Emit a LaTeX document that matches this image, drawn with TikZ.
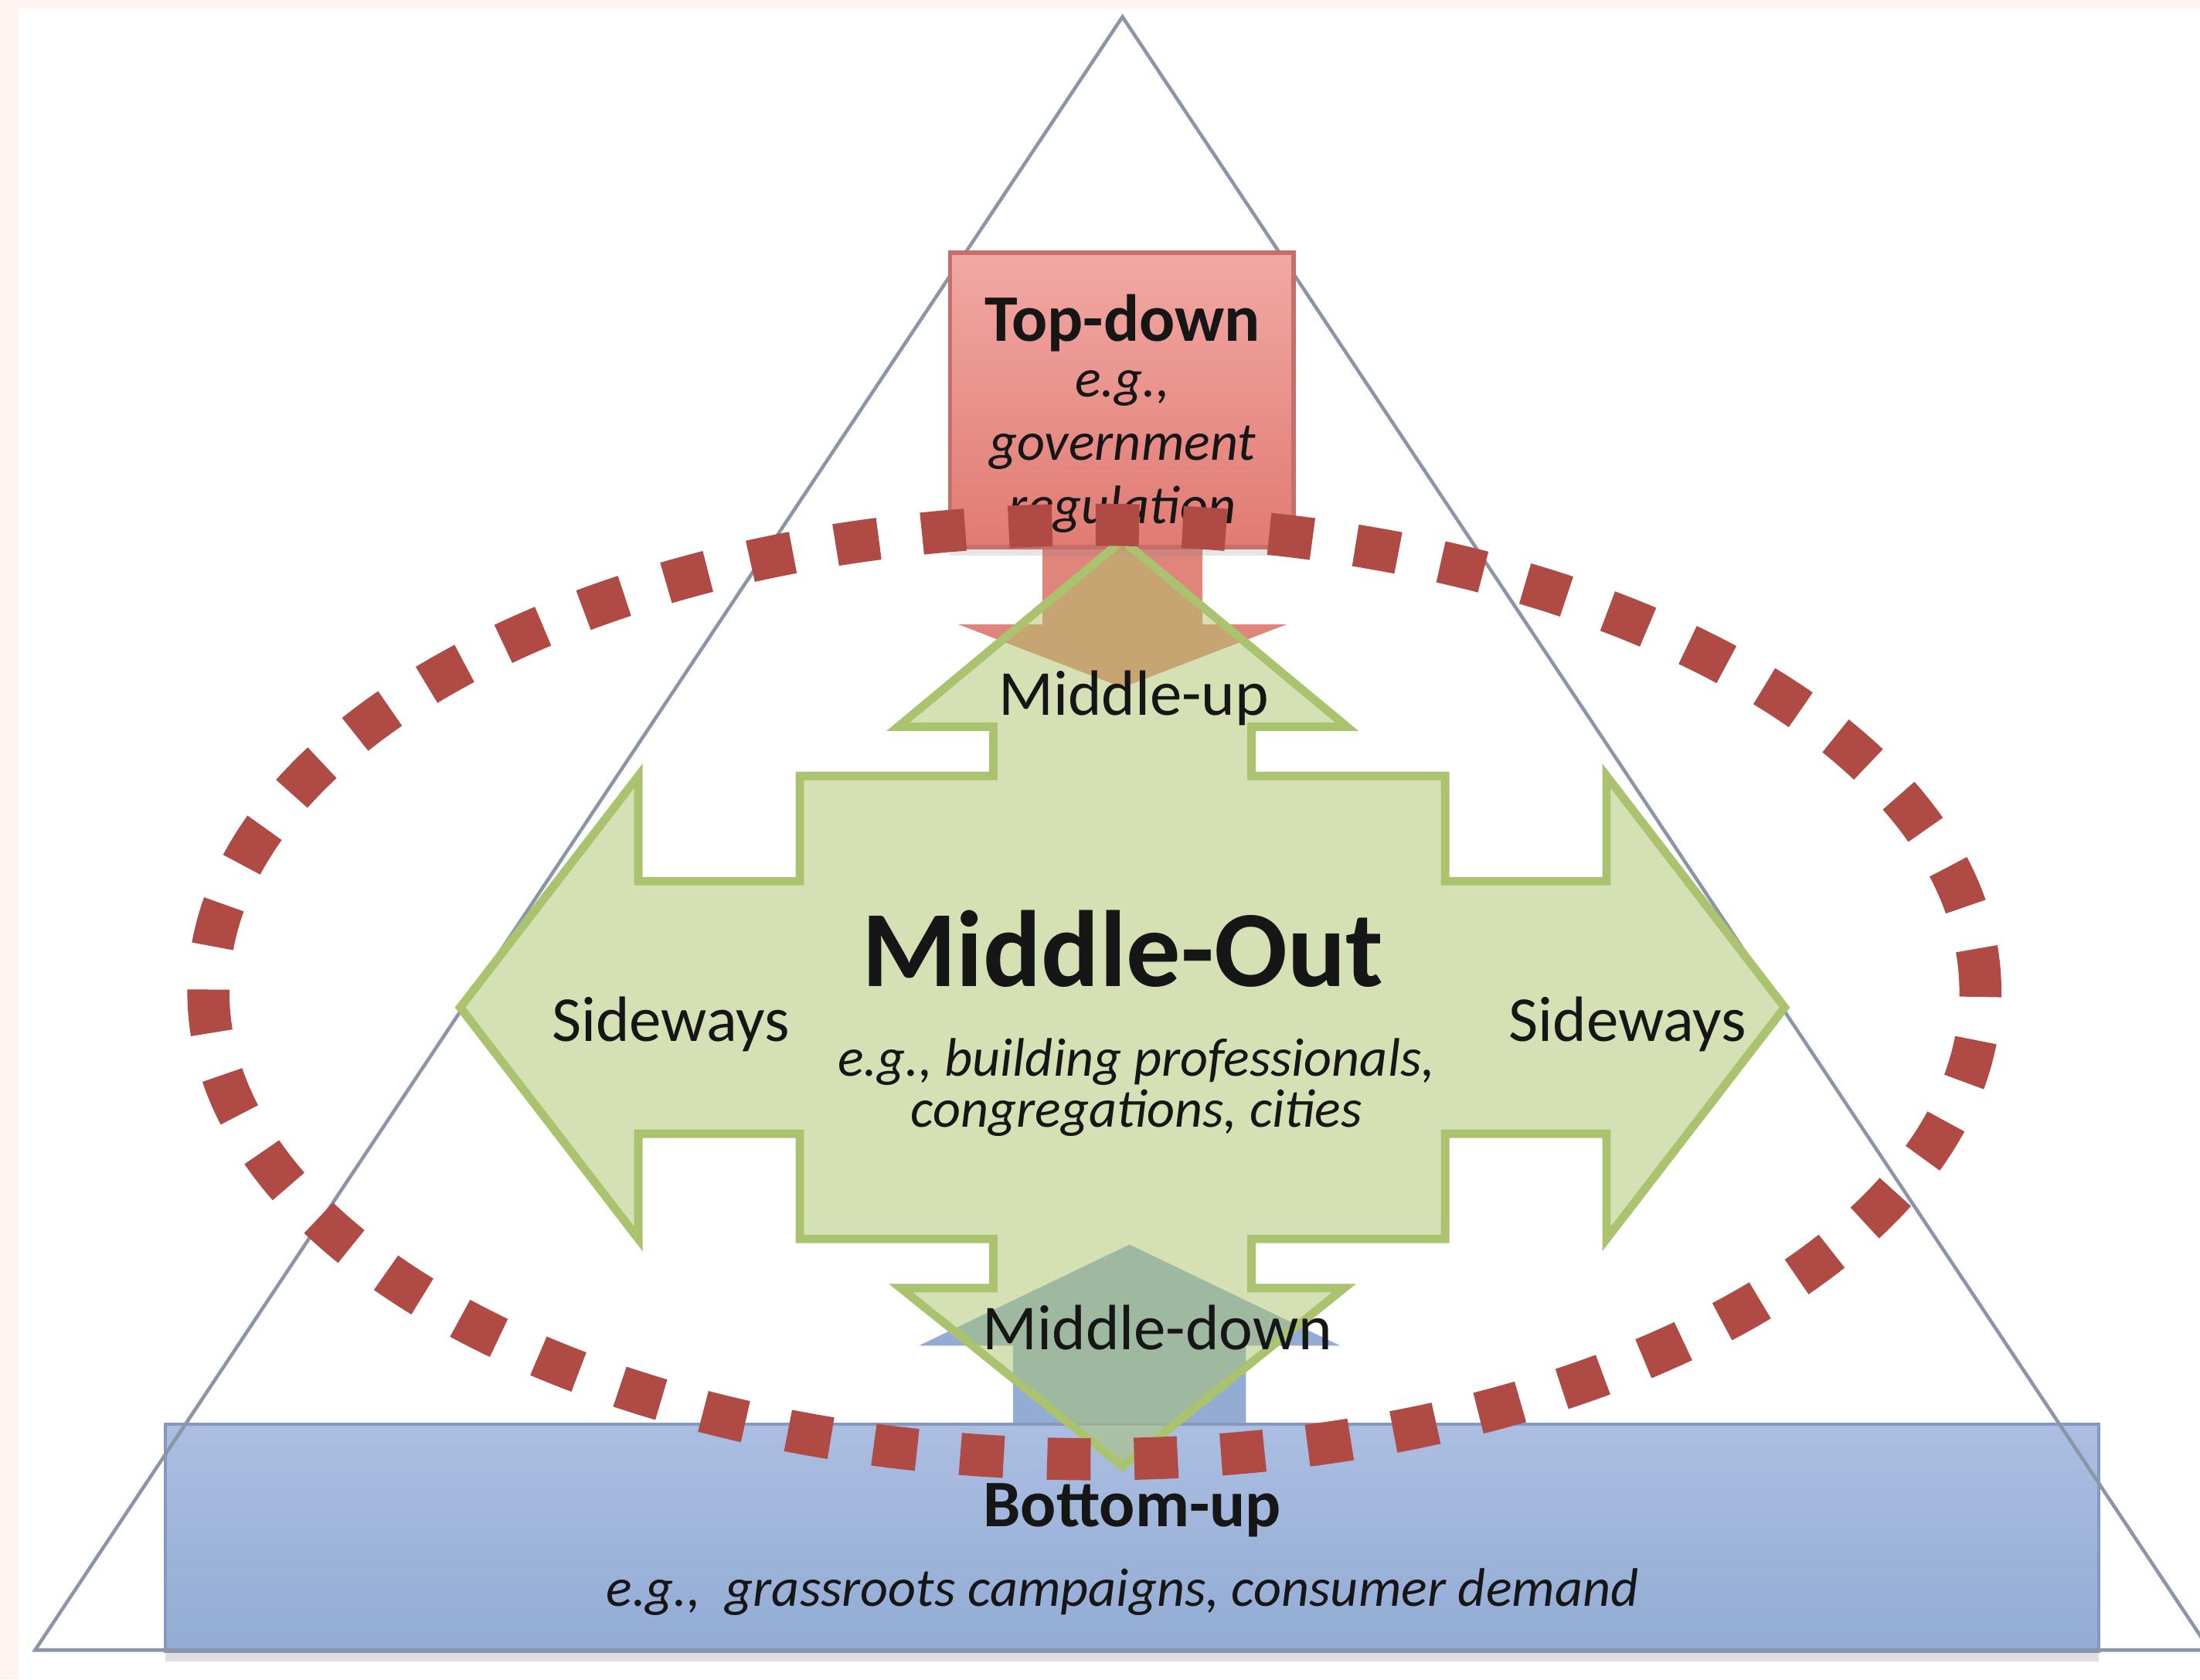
\documentclass[tikz,border=0pt]{standalone}
\usepackage{fontspec}
\setmainfont{Carlito}
\usetikzlibrary{shadows}

\definecolor{pinkbg}{HTML}{FFF4F2}
\definecolor{trianglegray}{HTML}{8C95A8}
\definecolor{topred}{HTML}{F2A8A4}
\definecolor{bottomred}{HTML}{E07B73}
\definecolor{redline}{HTML}{C86E68}
\definecolor{redarrow}{HTML}{E0857B}
\definecolor{topblue}{HTML}{ABBEE1}
\definecolor{bottomblue}{HTML}{92ACD4}
\definecolor{blueline}{HTML}{8599C0}
\definecolor{crossgreen}{HTML}{ADC56D}
\definecolor{greenline}{HTML}{ABC36E}
\definecolor{dotred}{HTML}{B04A44}
\definecolor{darktext}{HTML}{161616}

\begin{document}
\begin{tikzpicture}[x = 0.1mm, y = -0.1mm,
  small text/.style = {font = \fontsize{13}{15}\selectfont, text = darktext, inner sep = 0pt},
  title text/.style = {font = \bfseries\fontsize{13.5}{16}\selectfont, text = darktext, inner sep = 0pt},
  example text/.style = {font = \itshape\fontsize{11}{12.8}\selectfont, text = darktext, inner sep = 0pt, align = center}]
\useasboundingbox (0,0) rectangle (1568,1197);
\fill[pinkbg] (0,0) rectangle (1568,1197);
\fill[white] (14,6) rectangle (1568,1197);
\fill[bottomblue] (722,1020) -- (722,959) -- (655,959) -- (805,887) -- (955,959) -- (888,959) -- (888,1020) -- cycle;
\draw[top color = topblue, bottom color = bottomblue, draw = blueline, line width = 0.2mm, drop shadow = {opacity = 0.25, shadow xshift = 0mm, shadow yshift = -0.7mm}] (118,1015) rectangle (1496,1177);
\draw[trianglegray, line width = 0.25mm] (800,12) -- (1575,1176) -- (25,1176) -- cycle;
\fill[redarrow] (743,380) -- (743,445) -- (683,445) -- (800,490) -- (917,445) -- (857,445) -- (857,380) -- cycle;
\draw[top color = topred, bottom color = bottomred, draw = redline, line width = 0.3mm, drop shadow = {opacity = 0.2, shadow xshift = 0mm, shadow yshift = -0.6mm}] (677,180) rectangle (922,390);
\draw[fill = crossgreen, fill opacity = 0.5, draw = greenline, line width = 0.6mm] (800,385) -- (960,518) -- (892,518) -- (892,553) -- (1030,553) -- (1030,628) -- (1145,628) -- (1145,553) -- (1272,718) -- (1145,883) -- (1145,808) -- (1030,808) -- (1030,883) -- (892,883) -- (892,918) -- (958,918) -- (800,1045) -- (642,918) -- (708,918) -- (708,883) -- (570,883) -- (570,808) -- (455,808) -- (455,883) -- (328,718) -- (455,553) -- (455,628) -- (570,628) -- (570,553) -- (708,553) -- (708,518) -- (640,518) -- cycle;
\node[title text, anchor = base] (topdown) at (800,243) {Top-down};
\node[example text] (topdowneg) at (800,322) {e.g.,\\government\\regulation};
\node[small text, anchor = base] (middleup) at (808,510) {Middle-up};
\node[font = \bfseries\fontsize{22}{26}\selectfont, text = darktext, inner sep = 0pt, anchor = base] (middleout) at (800,703) {Middle-Out};
\node[example text, font = \itshape\fontsize{11}{10.2}\selectfont] (middleouteg) at (810,775) {e.g., building professionals,\\congregations, cities};
\node[small text, anchor = base] (sidewaysleft) at (478,742) {Sideways};
\node[small text, anchor = base] (sidewaysright) at (1160,742) {Sideways};
\node[small text, anchor = base] (middledown) at (825,962) {Middle-down};
\node[title text, anchor = base] (bottomup) at (807,1088) {Bottom-up};
\node[example text, anchor = base] (bottomupeg) at (800,1145) {e.g.,\ \ grassroots campaigns, consumer demand};
\draw[dotred, line width = 3mm, dash pattern = on 3.1mm off 3.1mm] (780,707) ellipse [x radius = 63.15mm, y radius = 33.3mm];
\end{tikzpicture}
\end{document}
